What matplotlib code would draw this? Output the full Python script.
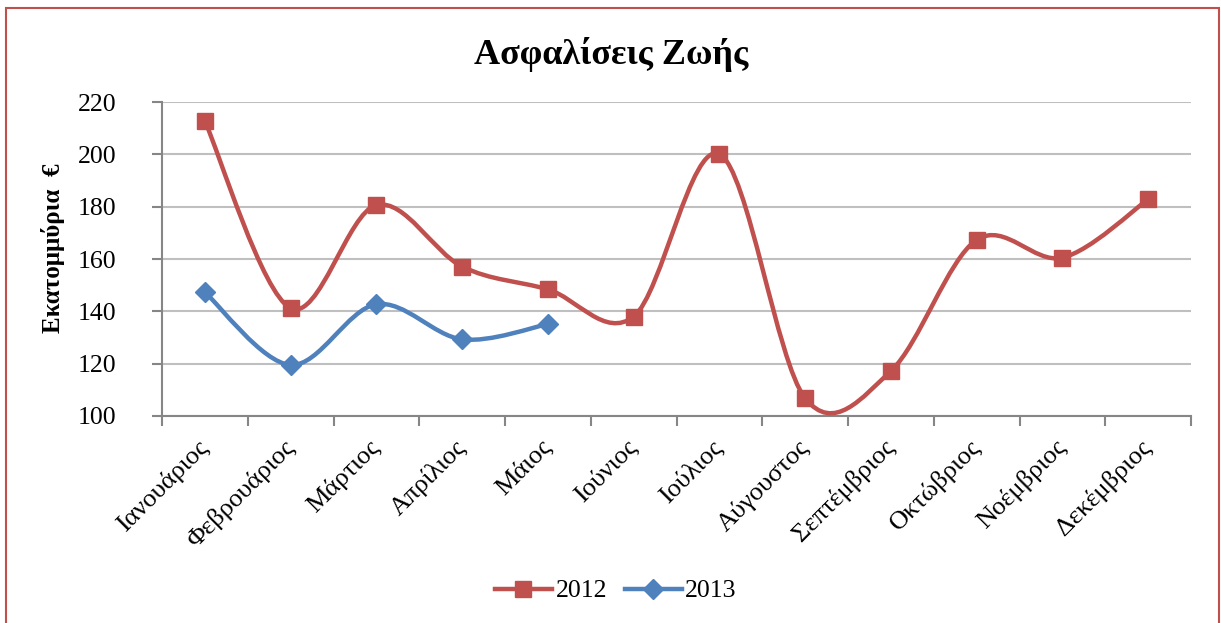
import matplotlib
matplotlib.use("Agg")
import matplotlib.pyplot as plt
from matplotlib.path import Path
from matplotlib.patches import PathPatch, Rectangle
from matplotlib.lines import Line2D
import numpy as np

plt.rcParams['font.family'] = ['Liberation Serif', 'DejaVu Serif']

months = ["Ιανουάριος", "Φεβρουάριος", "Μάρτιος", "Απρίλιος", "Μάιος", "Ιούνιος",
          "Ιούλιος", "Αύγουστος", "Σεπτέμβριος", "Οκτώβριος", "Νοέμβριος", "Δεκέμβριος"]
values_2012 = [212.7, 141.2, 180.6, 157.1, 148.4, 138.0, 200.1, 106.8, 117.2, 167.3, 160.5, 182.8]
values_2013 = [147.3, 119.5, 142.7, 129.3, 135.1]
yticks = [100, 120, 140, 160, 180, 200, 220]
title = "Ασφαλίσεις Ζωής"
ylabel = "Εκατομμύρια  €"

RED = "#C0504D"
BLUE = "#4F81BD"

W, H = 1221, 623
fig = plt.figure(figsize=(W / 100, H / 100), dpi=100)
fig.patches.append(Rectangle((6 / W, -0.05), (1219 - 6) / W, 1.05 - 8 / H, transform=fig.transFigure,
                             fill=False, edgecolor="#C0504D", linewidth=1.5))

ax = fig.add_axes([162 / W, 1 - 416 / H, (1191 - 162) / W, (416 - 102) / H])


def smooth_path(xs, ys):
    pts = np.column_stack([xs, ys]).astype(float)
    n = len(pts)
    verts = [pts[0]]
    codes = [Path.MOVETO]
    for i in range(n - 1):
        p0 = pts[i - 1] if i > 0 else pts[i]
        p1 = pts[i]
        p2 = pts[i + 1]
        p3 = pts[i + 2] if i + 2 < n else pts[i + 1]
        c1 = p1 + (p2 - p0) / 6.0
        c2 = p2 - (p3 - p1) / 6.0
        verts += [c1, c2, p2]
        codes += [Path.CURVE4] * 3
    return Path(verts, codes)


x12 = np.arange(len(values_2012))
x13 = np.arange(len(values_2013))

for xs, ys, col in [(x12, values_2012, RED), (x13, values_2013, BLUE)]:
    patch = PathPatch(smooth_path(xs, ys), fill=False, edgecolor=col, linewidth=3.2,
                      capstyle='round', joinstyle='round', zorder=3)
    ax.add_patch(patch)

ax.plot(x12, values_2012, ls='none', marker='s', markersize=11, color=RED, zorder=4)
ax.plot(x13, values_2013, ls='none', marker='D', markersize=10, color=BLUE, zorder=4)

ax.set_xlim(-0.5, len(months) - 0.5)
ax.set_ylim(100, 220)
ax.set_yticks(yticks)
ax.set_yticklabels([str(t) for t in yticks], fontsize=18.5)
ax.yaxis.grid(True, color="#BFBFBF", linewidth=1.5)
ax.set_axisbelow(True)

ax.set_xticks(np.arange(len(months)))
ax.set_xticklabels(months, fontsize=19, rotation=45, ha='right', va='center', rotation_mode='anchor')
ax.tick_params(axis='x', which='major', length=0, pad=20)
ax.set_xticks(np.arange(len(months) + 1) - 0.5, minor=True)
ax.tick_params(axis='x', which='minor', length=7, width=1.5, color="#868686", direction='out')
ax.tick_params(axis='y', length=7, width=1.5, color="#868686", pad=26)

for s in ['top', 'right']:
    ax.spines[s].set_visible(False)
for s in ['left', 'bottom']:
    ax.spines[s].set_color("#868686")
    ax.spines[s].set_linewidth(1.5)

ax.set_ylabel(ylabel, fontsize=18, fontweight='bold')
ax.yaxis.set_label_coords((53 - 162) / (1191 - 162), (416 - 248) / (416 - 102))
ax.yaxis.label.set_va('center')

fig.text(611 / W, 1 - 54 / H, title, fontsize=26, fontweight='bold', ha='center', va='center')

handles = [Line2D([], [], color=RED, linewidth=3.2, marker='s', markersize=11),
           Line2D([], [], color=BLUE, linewidth=3.2, marker='D', markersize=10)]
fig.legend(handles, ["2012", "2013"], loc='center', bbox_to_anchor=(616 / W, 1 - 591 / H),
           ncol=2, frameon=False, fontsize=18.5, handlelength=2.2, handletextpad=0.15, columnspacing=0.7)

fig.savefig("out.png", dpi=100)
